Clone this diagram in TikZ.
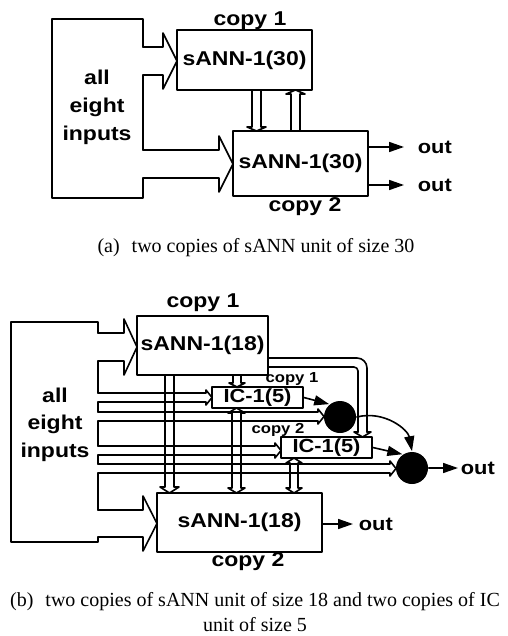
\documentclass[tikz,border=0pt]{standalone}
\usepackage{fontspec}
\setmainfont{Liberation Serif}
\newfontfamily\diagfont[FakeStretch=1.15]{Liberation Sans}
\usetikzlibrary{arrows.meta,calc,positioning}
\tikzset{
  unit/.style={draw, inner sep=0pt, font=\diagfont\bfseries\fontsize{20}{24}\selectfont},
  icunit/.style={draw, inner sep=0pt, minimum width=91pt, minimum height=21pt,
    font=\diagfont\bfseries\fontsize{19}{22}\selectfont},
  lbl/.style={inner sep=0pt, font=\diagfont\bfseries\fontsize{20}{24}\selectfont},
  smalllbl/.style={inner sep=0pt, font=\diagfont\bfseries\fontsize{14.5}{17}\selectfont},
  inlbl/.style={align=center, inner sep=0pt, font=\diagfont\bfseries\fontsize{20}{28}\selectfont},
  outlbl/.style={anchor=west, inner ysep=0pt, inner xsep=0pt,
    font=\diagfont\bfseries\fontsize{19}{22}\selectfont},
  dotc/.style={circle, fill, inner sep=0pt, minimum size=32pt},
  sig/.style={-{Triangle[length=15pt,width=10pt]}},
  capt/.style={inner sep=0pt, align=center, font=\fontsize{20}{25}\selectfont},
  every picture/.style={line cap=round, line join=round}
}
% hollow arrow to the right: start x, head base x, tip x, upper y, lower y, flare
\newcommand{\hollowright}[6]{%
  \draw (#1,#4) -- (#2,#4) -- (#2,#4-#6) -- (#3,{(#4+#5)/2})
    -- (#2,#5+#6) -- (#2,#5) -- (#1,#5);}
% hollow vertical arrow: left x, right x, start y, head base y, tip y, flare
\newcommand{\hollowvert}[6]{%
  \draw (#1,#3) -- (#1,#4) -- (#1-#6,#4) -- ({(#1+#2)/2},#5)
    -- (#2+#6,#4) -- (#2,#4) -- (#2,#3);}
% hollow vertical arrow with two heads: left x, right x, tip1, base1, base2, tip2, flare
\newcommand{\hollowboth}[7]{%
  \draw (#1,#4) -- (#1,#5) -- (#1-#7,#5) -- ({(#1+#2)/2},#6) -- (#2+#7,#5)
    -- (#2,#5) -- (#2,#4) -- (#2+#7,#4) -- ({(#1+#2)/2},#3) -- (#1-#7,#4) -- cycle;}

\begin{document}
\begin{tikzpicture}[x=1pt, y=-1pt, line width=1.6pt]
  \useasboundingbox (0,0) rectangle (507,636);

  % (a) two copies of size 30
  \draw (143,47) -- (143,19) -- (52,19) -- (52,198) -- (143,198) -- (143,178);
  \draw (143,75) -- (143,150);
  \node[inlbl] (ina) at (97,107) {all\\eight\\inputs};
  \node[unit, minimum width=135pt, minimum height=60pt] (s1a) at (244.5,60) {sANN-1(30)};
  \node[unit, minimum width=135pt, minimum height=65pt] (s2a) at (300.5,163.5) {sANN-1(30)};
  \node[lbl] (cpa1) at (250,21) {copy 1};
  \node[lbl] (cpa2) at (305,207) {copy 2};
  \hollowright{143}{163}{177}{47}{75}{14}
  \hollowright{143}{219}{233}{150}{178}{14}
  \hollowvert{252}{261}{90}{127}{131}{5}
  \hollowvert{291}{300}{131}{94}{90}{5}
  \node[outlbl, inner xsep=13pt] (oa1) at (404,147) {out};
  \node[outlbl, inner xsep=13pt] (oa2) at (404,185) {out};
  \draw[sig] (s2a.east |- oa1.west) -- (oa1.west);
  \draw[sig] (s2a.east |- oa2.west) -- (oa2.west);
  \node[capt] (capa) at (256,248) {(a)\hspace{0.6em}two copies of sANN unit of size 30};

  % (b) two copies of size 18 plus two IC units
  \draw (98,333) -- (98,322) -- (11,322) -- (11,542) -- (98,542) -- (98,537);
  \draw (98,361) -- (98,393);
  \draw (98,402) -- (98,412);
  \draw (98,421) -- (98,446);
  \draw (98,455) -- (98,464);
  \draw (98,473) -- (98,510);
  \node[inlbl, font=\diagfont\bfseries\fontsize{20}{27.5}\selectfont] (inb) at (55,424.5) {all\\eight\\inputs};
  \node[unit, minimum width=131pt, minimum height=59pt] (s1b) at (202.5,345.5) {sANN-1(18)};
  \node[unit, minimum width=165pt, minimum height=59pt] (s2b) at (239.5,522.5) {sANN-1(18)};
  \node[lbl] (cpb1) at (203,303) {copy 1};
  \node[lbl] (cpb2) at (248,562) {copy 2};
  \node[icunit] (ic1) at (257.5,397.5) {IC-1(5)};
  \node[icunit] (ic2) at (326.5,447.5) {IC-1(5)};
  \node[smalllbl] (cpi1) at (292,379) {copy 1};
  \node[smalllbl] (cpi2) at (278,430) {copy 2};
  \node[dotc] (d1) at (340,417) {};
  \node[dotc] (d2) at (412,468) {};
  \hollowright{98}{124}{137}{333}{361}{14}
  \hollowright{98}{143}{157}{510}{537}{14}
  \hollowright{98}{206}{212}{393}{402}{3}
  \hollowright{98}{318}{324}{412}{421}{3}
  \hollowright{98}{275}{281}{446}{455}{3}
  \hollowright{98}{390}{396}{464}{473}{3}
  \hollowvert{165}{174}{375}{487}{493}{5}
  \hollowvert{233}{241}{375}{383}{387}{4}
  \hollowboth{232}{241}{408}{413}{488}{493}{4}
  \hollowboth{290}{298}{458}{463}{488}{493}{4}
  \draw[rounded corners=10pt] (268,358) -| (367,432);
  \draw[rounded corners=4pt] (268,367) -| (358,432);
  \draw (367,432) -- (371,432) -- (362.5,437) -- (354,432) -- (358,432);
  \draw[sig] (ic1.east) -- (d1.130);
  \draw[sig] (ic2.east) -- (d2.125);
  \draw[sig] (d1.east) .. controls (385,410) and (408,430) .. (d2.north);
  \node[outlbl, inner xsep=2pt] (ob1) at (458,468) {out};
  \node[outlbl, inner xsep=5pt] (ob2) at (353,524) {out};
  \draw[sig] (d2) -- (ob1.west);
  \draw[sig] (s2b.east |- ob2.west) -- (ob2.west);
  \node[capt] (capb) at (255,612.5) {(b)\hspace{0.6em}two copies of sANN unit of size 18 and two copies of IC\\unit of size 5};
\end{tikzpicture}
\end{document}
